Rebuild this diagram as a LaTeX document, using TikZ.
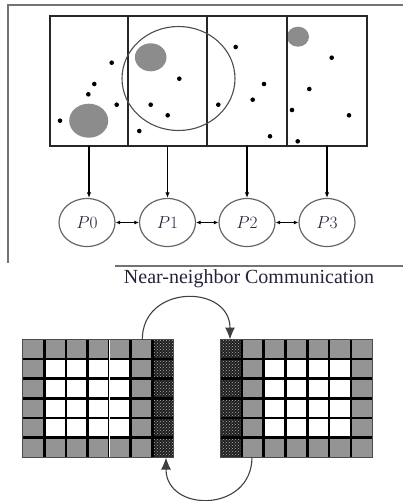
\documentclass[tikz,border=0pt]{standalone}
\usepackage{fontspec}
\newfontfamily\capfont{Liberation Serif}
\usetikzlibrary{arrows.meta,shapes.geometric,patterns}
\definecolor{blob}{gray}{0.55}
\definecolor{cellgray}{gray}{0.58}
\definecolor{framegray}{gray}{0.45}
\definecolor{labelcol}{RGB}{35,35,60}
\tikzset{
  pcirc/.style={ellipse,draw=black!60,line width=1.2pt,minimum width=56pt,minimum height=48pt,inner sep=0pt,font=\fontsize{19}{22}\selectfont,text=labelcol},
  dot/.style={circle,fill=black,inner sep=0pt,minimum size=4.6pt},
  down/.style={-{Latex[length=5.5pt,width=4.5pt]},line width=1.1pt},
  both/.style={{Latex[length=4.5pt,width=4pt]}-{Latex[length=4.5pt,width=4pt]},line width=1.1pt},
  bigarrow/.style={-{Latex[length=12pt,width=10pt]},line width=1.1pt,draw=black!75},
  gridline/.style={line width=2.6pt,black},
  halo/.style={fill=black!88,postaction={pattern=crosshatch dots,pattern color=gray!65}}
}
\begin{document}
\begin{tikzpicture}[x=1pt,y=-1pt]
\useasboundingbox (0,0) rectangle (403,501);
% frame
\draw[framegray,line width=1.5pt] (403,5) -- (8,5) -- (8,263);
\draw[framegray,line width=1.5pt] (115,266) -- (403,266);
% gray blobs
\fill[blob] (88.7,120.7) ellipse [x radius=19.5,y radius=17];
\fill[blob] (150.7,57.3) ellipse [x radius=15.8,y radius=14];
\fill[blob] (298,36.7) ellipse [x radius=11,y radius=10];
% domain rectangle
\draw[black!85,line width=1.3pt] (50,16) rectangle (367,146);
\foreach \x in {128,207,287} \draw[black!85,line width=1.3pt] (\x,16) -- (\x,146);
% big circle
\draw[black!70,line width=1.1pt] (178.5,78.5) ellipse [x radius=56.5,y radius=52];
% particles
\foreach \p/\q [count=\i] in {111.7/62.7,94.3/84,88.3/94.3,116.7/104.7,60/120.7,
  179.3/78.7,150.7/104.7,167.7/115.3,139.3/131,
  235.7/47,264/84,252.7/99.7,218.3/104.7,270/136.3,
  331.7/57.7,309.3/89,292/110,349/115.3,297.7/141.3}
  \node[dot] (d\i) at (\p,\q) {};
% processors
\coordinate (s0) at (89,146);
\coordinate (s1) at (167.5,146);
\coordinate (s2) at (247,146);
\coordinate (s3) at (327,146);
\node[pcirc] (p0) at (87,222.5) {$P0$};
\node[pcirc] (p1) at (167.5,222.5) {$P1$};
\node[pcirc] (p2) at (247,222.5) {$P2$};
\node[pcirc] (p3) at (327,222.5) {$P3$};
\foreach \i in {0,1,2,3} \draw[down] (s\i) -- (s\i |- p\i.north);
\draw[both] (p0) -- (p1);
\draw[both] (p1) -- (p2);
\draw[both] (p2) -- (p3);
% caption
\node[font=\capfont\fontsize{20}{24}\selectfont,text=labelcol] (cap) at (249,279) {Near-neighbor Communication};
% left grid
\fill[cellgray] (22.7,339.5) rectangle (152.3,457);
\fill[white] (44.3,359.1) rectangle (130.7,437.4);
\path[halo] (152.3,339.5) rectangle (173.9,457);
\foreach \k in {1,...,6} \draw[gridline] (22.7+\k*21.6,339.5) -- (22.7+\k*21.6,457);
\foreach \k in {1,...,5} \draw[gridline] (22.7,339.5+\k*19.58) -- (173.9,339.5+\k*19.58);
\draw[white,line width=0.8pt] (109.1,339.5) -- (109.1,457);
\draw[black!70,line width=1pt] (22.7,339.5) rectangle (173.9,457);
% right grid
\fill[cellgray] (241.8,339.5) rectangle (372.7,457);
\fill[white] (263.6,359.1) rectangle (350.8,437.4);
\path[halo] (220,339.5) rectangle (241.8,457);
\foreach \k in {1,...,6} \draw[gridline] (220+\k*21.8,339.5) -- (220+\k*21.8,457);
\foreach \k in {1,...,5} \draw[gridline] (220,339.5+\k*19.58) -- (372.7,339.5+\k*19.58);
\draw[black!70,line width=1pt] (220,339.5) rectangle (372.7,457);
% exchange arrows
\coordinate (a1) at (142.3,339.5);
\coordinate (a2) at (230,339.5);
\coordinate (b1) at (252,457);
\coordinate (b2) at (166,457.5);
\draw[bigarrow] (a1) .. controls (142.3,284) and (230,284) .. (a2);
\draw[bigarrow] (b1) .. controls (252,513) and (166,513) .. (b2);
\end{tikzpicture}
\end{document}
